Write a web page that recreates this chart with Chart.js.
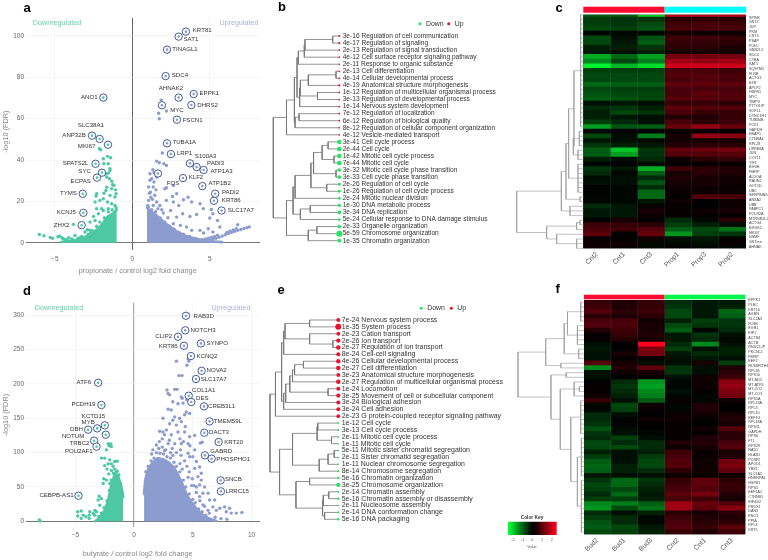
<!DOCTYPE html>
<html>
<head>
<meta charset="utf-8">
<title>Volcano plots, GO terms and heatmaps</title>
<script src="https://cdn.jsdelivr.net/npm/chart.js@4"></script>
<style>
  html, body { margin: 0; background: #fff; }
  #page { position: relative; width: 768px; height: 560px; overflow: hidden; }
  #page canvas { position: absolute; left: 0; top: 0; filter: blur(0.45px); }
</style>
</head>
<body>
<div id="page"></div>
<script>
// ---------- panel a: propionate volcano ----------
const aUpGenes = ['KRT81','SAT1','TINAGL1','SDC4','EPPK1','AHNAK2','DHRS2','MYC','FSCN1','TUBA1A','LRP1','S100A3','PADI3','ATP1A3','FOS','KLF2','ATP1B2','PADI2','KRT86','SLC17A7'];
const aUpFc = [3.46,2.99,2.24,2.15,3.96,2.99,3.81,1.91,2.88,2.24,2.49,3.72,4.15,4.60,1.66,3.27,4.52,5.35,5.27,5.76];
const aUpFdr = [102.1,99.7,93.4,80.6,71.9,70.2,66.6,66.5,59.5,48.1,42.9,38.4,36.6,35.2,33.5,31.3,27.4,23.7,20.3,15.6];
const aDownGenes = ['ANO1','ANP32B','SLC38A1','MKI67','SPATS2L','SYC','ECPAS','TYMS','KCNJ5','ZHX2'];
const aDownFc = [-1.87,-2.6,-2.11,-1.57,-2.37,-1.96,-2.28,-3.2,-3.16,-3.27];
const aDownFdr = [70.2,51.8,50.2,47.4,38.2,33.9,31.5,23.7,14.5,8.5];
const aUpDots = [[1.87,69],[1.87,67],[2.2,63.7],[1.7,62.6],[1.74,60],[1.94,43.4],[1.57,39.5],[1.74,38.7],[2.04,38.2],[2.2,37.4],[1.33,35.3],[1.4,33.9],[1.14,33.4],[1.25,31],[1.57,31.8],[1.4,29.4],[1.14,30.2],[1.05,27],[1.35,27],[1.18,24.5],[1.53,25.6],[2.1,26.1],[2.2,26.6],[2.65,27.7],[2.6,22.4],[2.86,23.7],[2.2,20.5],[2.65,19.7],[3,18],[3.3,20.8],[3.6,22],[3.83,19.7],[4.37,18.9],[4.58,16.5],[5.1,16.1],[5.2,14],[5,12],[5.5,10.8],[4.15,13.7],[3.72,12.7],[3.25,14],[2.86,12.4],[2.47,15.6],[1.78,18],[1.05,20.5],[1.03,17.3],[1.35,18],[1.57,19.7],[2,14.4],[2.3,12.1],[2.65,9.2],[3.1,8.4],[3.5,7.6],[3.83,6],[4.37,6],[4.6,4.7],[4.9,6.8],[5.2,5.2],[5.65,7.6],[6.8,8.7],[1,18],[1.25,16],[1.5,15],[1.8,12],[2.1,10],[2.4,8],[2.7,6.5],[3,5],[3.3,4.2],[3.7,3],[4.1,2],[1.2,22],[1.1,24],[1.3,21],[1.45,23],[1.65,16.5],[1.9,16],[4.4,.8],[4.6,1],[4.8,1.2],[5,1.4],[5.2,1.7],[5.4,2.2],[5.6,2.7],[5.8,3.3],[6,3.9],[6.2,4.5],[6.4,5],[6.6,5.5],[6.8,6],[7,6.4],[7.2,6.9],[7.4,7.3],[7.55,7.7],[6.1,5],[6.3,5.6],[6.5,6.2],[6.7,6.8],[5.5,3.6],[5.3,3],[5.1,2.6],[4.9,2.2],[4.7,1.8],[4.5,1.5]];
const aDownDots = [[-1.6,41.8],[-1.4,41.1],[-1.87,40.6],[-1.83,38.2],[-1.55,38.2],[-2.13,45.5],[-2.04,45],[-1.44,35.8],[-1.44,35],[-1.55,33.7],[-1.7,33.4],[-1.65,31.8],[-1.48,31],[-1.33,29.8],[-1.18,27.7],[-1.27,28.2],[-1.08,25.6],[-1.05,23.7],[-1.12,22.1],[-1.33,26.1],[-1.65,26.9],[-1.7,25.3],[-1.44,22.9],[-1.83,24],[-2.3,23.7],[-2.34,22.6],[-2.4,19.7],[-2.09,20.5],[-1.87,21.3],[-1.6,19.7],[-1.33,18.9],[-1.12,18],[-2.3,16.5],[-1.98,16.5],[-2.19,14],[-1.87,15.6],[-1.55,16.5],[-2.5,12.7],[-2.4,10.8],[-2.73,10],[-3.8,8.9],[-2.9,6.3],[-2.73,6],[-3.05,5.2],[-3.27,3.1],[-3.7,3.5],[-6,4],[-5.7,3.4],[-5.3,2.6],[-5.15,2.2],[-4.8,2.9],[-4.7,3.2],[-4.55,2.4],[-4.45,2],[-4.25,1.6],[-4.1,2.5],[-3.9,1.9],[-3.45,1.9],[-3.35,2.5],[-3,2.9],[-2.7,4.5],[-1.05,17],[-1.3,16],[-1.55,15],[-1.8,12],[-2.1,10],[-2.3,8],[-2.6,6],[-2.85,4],[-3.2,2.5],[-3.5,2.2],[-3.9,1.2],[-4.3,1]];
const aUpMass = [[0.95,17],[1.15,15.5],[1.6,13],[2.2,9],[2.86,5.5],[3.5,3.2],[4.4,1.5],[5,.7],[5.8,.3]];
const aDownMass = [[-4.6,.4],[-4.2,.8],[-3.6,1.5],[-2.95,2.7],[-2.5,5],[-2.1,7.6],[-1.6,12.5],[-1.2,14.5],[-1,16]];

// ---------- panel d: butyrate volcano ----------
const dUpGenes = ['RAB3D','NOTCH3','CLIP2','SYNPO','KRT86','KCNQ2','NOVA2','SLC17A7','COL1A1','DES','CREB3L1','TMEM59L','DACT3','KRT20','GABRD','PHOSPHO1','SNCB','LRRC15'];
const dUpFc = [4.42,4.36,3.74,5.69,4.25,4.84,5.75,5.27,4.65,4.87,5.95,6.43,5.98,7.2,6.03,6.6,7.37,7.39];
const dUpFdr = [299,277.8,268.5,258.8,255.4,240.4,219,207,182.7,173.5,167.2,145.4,128.9,115.4,96,91.1,59.6,43.6];
const dDownGenes = ['ATF6','PCDH19','KCTD15','MYB','DBH','NOTUM','TRBC2','POU2AF1','CEBPB-AS1'];
const dDownFc = [-3.06,-2.78,-2.49,-3.14,-3.91,-2.41,-3.4,-3.2,-4.73];
const dDownFdr = [201.6,169.2,139.6,135.2,133.3,126,117.3,108.6,37.3];
const dUpDots = [[3.6,233],[4.6,236],[4.5,227],[4.67,233],[3.82,212],[4.08,212],[3.03,184],[2.8,191],[3.46,192],[3.65,192],[2.89,186],[4.1,179],[4.02,181],[4.5,177],[4.16,172],[3.3,174],[3.74,171],[2.9,163],[3.17,162],[4.45,159],[4.73,157],[3.46,152],[3.3,147],[3.88,150],[4.3,155],[2.46,150],[4.02,145],[3.03,142],[3.6,140],[4.36,138],[2.75,133],[2.18,131],[2.46,130],[2.6,126],[3.17,126],[3.74,130],[4.3,130],[4.73,123],[5.16,125],[5.64,114],[5.8,115],[4.02,113],[4.6,113],[5.16,104],[1.9,111],[2.9,113],[3.46,113],[4.6,99],[5,94],[5.3,87],[5.58,79],[5.16,77],[4.73,94],[5.72,70],[5.44,65],[5.72,60],[6,50],[5.58,53],[6.3,41],[5.3,50],[6.43,31],[5.86,41],[6.86,31],[7.3,19],[7.7,21],[8.13,19],[7.85,14],[8.27,12],[8.7,12],[9.18,13],[7,16],[6.71,21],[6.3,16],[5.58,36],[5.86,24],[2.4,108],[2.7,104],[3.1,100],[3.6,100],[4,96],[1.5,98],[1.9,100],[4.3,88],[4.5,80],[4.7,72],[4.95,62],[5.1,52],[5.3,42],[5.6,30],[6,22],[6.4,12],[6.9,6],[7.4,4],[7.9,3],[1,72],[1.2,80],[1.45,88],[1.7,92],[2.2,99],[2.5,98],[2.8,94],[3.1,92],[3.4,86],[3.6,80],[3.9,72],[4.2,60],[4.4,50],[4.7,40],[5,32],[5.2,27],[5.5,18],[5.8,14],[6.1,9],[1.6,104],[2.1,106],[2.6,103],[3.3,96],[3.9,84],[4.1,76],[4.6,64],[4.9,52],[4.75,110],[3.95,104],[3.25,106],[2.15,116],[2.4,120],[3,118],[3.9,120],[4.2,116]];
const dDownDots = [[-2.2,113],[-1.98,112.5],[-2.12,110],[-1.93,108.7],[-2.35,104],[-2.78,92],[-2.5,92],[-2.07,89.4],[-1.64,87],[-1.44,87.5],[-2.2,83.6],[-1.93,83.6],[-1.78,80],[-2.5,81],[-2.3,76],[-1.64,76],[-1.93,74],[-2.15,69],[-1.44,73],[-2.58,62],[-2.35,60],[-2.07,55],[-2.63,55],[-2.97,36.5],[-2.78,33],[-3.06,31],[-2.92,23.5],[-3.34,16],[-3.48,11.5],[-3.34,9],[-3.2,14],[-3.77,14],[-3.82,9],[-4.33,9],[-4.8,14],[-4.5,15],[-4.8,7.7],[-4.5,4.3],[-4.1,6.7],[-3.82,4.3],[-8.07,1.9],[-8,.6],[-1,42],[-1.15,55],[-1.3,68],[-1.5,72],[-1.75,70],[-1.95,60],[-2.1,45],[-2.3,30],[-2.55,20],[-2.8,12],[-3,7]];
const dUpMass = [[.85,40],[.95,60],[1.15,74],[1.5,84],[2,92],[2.5,90],[3,85],[3.4,78],[3.8,66],[4.1,55],[4.45,40],[4.87,28],[5.3,19],[5.86,9],[6.4,4],[7,.6]];
const dDownMass = [[-3.3,.3],[-3.06,3.4],[-2.78,9],[-2.5,16],[-2.2,31],[-1.93,53],[-1.64,69],[-1.36,66],[-1.08,50],[-.93,35]];

// ---------- panel b: GO terms, propionate ----------
const bPvals = ['3e-16','4e-17','2e-13','4e-12','2e-11','2e-13','4e-14','4e-19','1e-12','3e-13','1e-14','7e-12','6e-12','8e-12','4e-12','3e-41','2e-44','1e-42','7e-44','3e-32','3e-33','2e-26','1e-26','2e-24','1e-30','3e-34','5e-24','2e-33','5e-59','1e-35'];
const bTerms = ['Regulation of cell communication','Regulation of signaling','Regulation of signal transduction','Cell surface receptor signaling pathway','Response to organic substance','Cell differentiation','Cellular developmental process','Anatomical structure morphogenesis','Regulation of multicellular organismal process','Regulation of developmental process','Nervous system development','Regulation of localization','Regulation of biological quality','Regulation of cellular component organization','Vesicle-mediated transport','Cell cycle process','Cell cycle','Mitotic cell cycle process','Mitotic cell cycle','Mitotic cell cycle phase transition','Cell cycle phase transition','Regulation of cell cycle','Regulation of cell cycle process','Mitotic nuclear division','DNA metabolic process','DNA replication','Cellular response to DNA damage stimulus','Organelle organization','Chromosome organization','Chromatin organization'];
const bUpCount = 15;
const bTreeTop = [.8,[.68,[.64,[.62,[.53,[.52,[.1,0,1],2],3],4],[.6,[.59,[.47,[.05,5,6],7],[.33,8,9]],10]],[.67,[.61,11,12],13]],14];
const bTreeBottom = [.8,[.7,[.67,[.43,[.39,[.26,[.17,15,16],[.08,17,18]],[.05,19,20]],[.19,21,22]],23],[.59,[.44,24,25],26]],[.47,[.34,27,28],29]];
const bTree = [1,bTreeTop,bTreeBottom];

// ---------- panel e: GO terms, butyrate ----------
const ePvals = ['7e-24','1e-35','2e-23','2e-26','2e-27','8e-24','4e-26','2e-27','3e-23','2e-27','1e-24','3e-25','3e-24','3e-24','2e-23','1e-12','3e-13','2e-11','1e-11','5e-11','2e-11','1e-11','8e-14','5e-16','3e-25','2e-14','5e-16','2e-11','2e-14','5e-16'];
const eTerms = ['Nervous system process','System process','Cation transport','Ion transport','Regulation of ion transport','Cell-cell signaling','Cellular developmental process','Cell differentiation','Anatomical structure morphogenesis','Regulation of multicellular organismal process','Locomotion','Movement of cell or subcellular component','Biological adhesion','Cell adhesion','G protein-coupled receptor signaling pathway','Cell cycle','Cell cycle process','Mitotic cell cycle process','Mitotic cell cycle','Mitotic sister chromatid segregation','Sister chromatid segregation','Nuclear chromosome segregation','Chromosome segregation','Chromatin organization','Chromosome organization','Chromatin assembly','Chromatin assembly or disassembly','Nucleosome assembly','DNA conformation change','DNA packaging'];
const eUpCount = 15;
const eTreeTop = [.92,[.83,[.8,[.78,[.42,0,1],[.42,2,[.08,3,4]]],5],[.8,[.77,[.71,[.67,[.64,[.51,6,7],8],9],[.15,10,11]],12],13]],14];
const eTreeBottom = [.86,[.67,[.31,[.3,15,16],[.1,17,18]],[.28,[.15,[.06,19,20],21],22]],[.62,[.42,23,24],[.23,[.22,[.14,25,26],27],[.2,28,29]]]];
const eTree = [1,eTreeTop,eTreeBottom];

// ---------- panel c: heatmap, propionate ----------
const cCols = ['Cnt2','Cnt1','Cnt3','Prop1','Prop3','Prop2'];
const cGenes = ['','SPINK','GSTZ','JUP','PKM','CST3','PSAP','PLEC','GNB2L1','SDC4','CYBA','SAT1','SQSTM1','FLNB','ACTG1','EZR','APLP2','HSPB1','MYC','TIMP3','PTTG1IP','SOPL1','DYNC1H1','TUBB4B','PCK1','GAPDH','HSAP1','CTNNA1','RPL28','UPRE6A','JUN','COTL1','YIF1','EIF4H','FMRP','ALDOA','RAUN2','GOT1D','UBC','SERPINB24','ANXA2','UBB','PABPC1','POLR2A','MTRNR2L2','ACTG4','EIF4G2','MKI67','NSMF','GSTmn','AHNAK'];
const cHeat = [
  [-1,-1,-2,1.8,1.8,1.8],[-.7,-.6,-.6,.5,.5,.5],[-.7,-.6,-.8,.7,.8,.7],[-.8,-.7,-.9,.8,.8,.8],[-.1,-.1,-.1,.3,.2,.2],
  [-.8,-.2,-.9,.7,.7,.6],[-.8,-.3,-1,.6,.6,.5],[-.4,-.4,-.6,.5,.5,.35],[-.3,-.2,-.4,.3,.3,.25],[-1.7,-1.1,-1.6,1.2,1.2,1.2],
  [-1.4,-.8,-1.3,1.6,1.5,1.6],[-2.3,-1.8,-2.1,2,2,2],[-.7,-.7,-.7,.8,.8,.7],[-.8,-.8,-.8,.9,.9,.8],[-.8,-.8,-.8,.8,.9,.8],
  [-1.1,-1,-1,1,1,1],[-.8,-.7,-.7,.8,.8,.8],[-.9,-.8,-.8,.8,1,.9],[-1,-.9,-.8,.9,.9,.9],[-.2,-.3,-.2,.6,.6,.5],
  [-.5,-.6,-.4,1,.9,.9],[-.4,-.8,-.6,.8,.6,.6],[-.4,-.3,-.2,.4,.4,.6],[-.7,-.5,-.2,.8,.5,.7],[-1.6,-.9,-1,1.1,1.5,1.1],
  [-.1,-.05,-.05,.1,.1,.1],[-.8,-.15,-1.3,.3,1.5,1.4],[-.3,-.2,-.1,.2,.3,.3],[-.6,-.4,-.3,.4,.5,.5],[-1,-1.9,-.6,1,1.1,1.2],
  [-1,-1.6,-.6,.9,.9,.9],[-.4,-.2,-.5,.2,.5,.6],[-.1,-.05,-.15,.1,.1,.1],[-.6,-.3,-1.7,.7,.5,.4],[-.5,-.1,-1,.3,.5,.4],
  [-.15,-.2,-.5,.4,.3,.2],[-.2,-.2,-.9,.3,.3,.2],[-.05,-.1,-.5,.2,.2,.15],[-.05,-.1,-1.1,.15,.2,.2],[-.1,-.1,-1.1,.1,.9,.8],
  [-.1,-.1,-.3,.2,0,.2],[-.5,-.3,.1,.1,0,.15],[-.3,-.3,.3,.1,.2,.3],[-.3,-.3,.2,.1,.1,.1],[-.05,.3,.05,-.5,-.1,.5],
  [.7,.6,.5,-.7,-.4,-.2],[.8,.7,.9,-1,-.8,-1.2],[1,.05,1.1,-1.5,-.7,-.6],[.1,.05,.2,-.2,-.3,.1],[.2,.2,-.1,-.1,-.2,.1],[.2,.1,-.1,0,-.1,-.1]
];
const cTreeHigh = [.04,0,1,2,3,4,5,6,7,8,9,10,11,12,13,14,15,16,17,18,19,20,21,22,23,24];
const cTreeMid = [.15,[.06,25,26,27,28],[.08,29,30,31]];
const cTreeLow = [.08,32,33,34,35,36,37,38];
const cTreeUpper = [.33,[.26,[.22,[.14,cTreeHigh,cTreeMid],cTreeLow],[.05,39,40]],[.2,41,42,43]];
const cTreeLower = [.55,[.1,[.05,44,45],46],[.4,47,[.1,48,49,50]]];
const cTree = [1,cTreeUpper,cTreeLower];

// ---------- panel f: heatmap, butyrate ----------
const fCols = ['Bud2','Bud1','Bud3','Cnt2','Cnt1','Cnt3'];
const fGenes = ['EPPK1','PLEC','KRT16','AGRN','SLC2A3','FLNB','EGR1','EIF1','ACTN4','ACTB','RNU12-IP','PKCNL2','FMRP','EEF2','HLSBRITH4','RPL36','RPS10','MT-ND5','MT-ATP6','MT-CO2','MT-CO3','RPS5A','RPL13A','RPL3','RPL10','EEF1G','RPL18A','RPS11','GAPDH','RPS6','FTL','RPS2K','NAD1','HLAB1','PCBP2','APOD1','YBX1','SLC1A5','HNRNPA1','HSPE1','RPS5','EEF1A1','CTNNB1','EIF4G2','PRDX1','DAN3','ENO1','PPIA','RPL4','KRT5'];
const fHeat = [
  [.6,.4,.6,-.5,-.3,-.3],[.7,.4,.6,-.6,-.3,-.4],[.9,.5,.7,-.8,-.3,-1.1],[.5,.4,.5,-.8,-.3,-1],[.8,.8,.2,-.4,-.7,-.6],
  [.9,.8,.3,-.8,-.6,-.6],[.4,.7,.3,-1,-.1,-.5],[.1,.6,.4,-.3,-.6,-.2],[.1,.4,.3,-.3,-.5,-.1],[-.2,0,2.4,-.5,-1.4,-.2],
  [-.3,0,1.3,-.7,-.2,-.4],[-.2,.3,1.2,-.3,-.5,-.4],[-.2,.1,.1,-.2,-.3,-.2],[.9,.3,-.2,-.2,.3,-.7],[-1.4,.4,1,-.6,-.2,.4],
  [-.2,.2,.3,-.6,-.2,.5],[-.2,0,.1,-.2,.2,.7],[0,-.5,-1.5,-.1,.2,1.4],[.1,-.6,-1.6,-.1,.2,1.5],[.1,-.5,-1.4,-.2,.1,1.3],
  [.2,-.4,-1.3,-.1,-.1,1.2],[.6,-.2,-1,.1,-.1,.2],[-.1,-.8,.2,-.1,.4,0],[-.1,-.7,.1,-.1,.4,0],[-.5,-.2,0,.15,.2,.3],
  [-.5,-.05,.2,.2,.05,.4],[-.6,-.05,.1,.1,.05,.3],[-.9,-.15,-.05,.1,.2,.9],[-.6,-.2,-.1,.1,.1,.5],[-.5,-.7,-.2,.1,.4,.5],
  [-.8,-.5,-.5,.4,.4,.8],[-.8,-.8,-.5,.2,.3,.9],[-.4,-.2,-.4,.7,.15,.3],[-.7,-.2,-.7,.8,.15,.4],[-1,-.2,-.8,.9,.2,1.2],
  [-1.1,-.4,-.8,.9,.2,1.3],[-1,-.4,-.5,.5,.2,1],[-.3,-.2,-.2,.2,.1,.2],[-.6,-1.1,-.6,.6,1,.5],[-.8,-1.1,-.5,.7,1,.6],
  [-.7,-.8,-.4,.8,.9,.6],[-.5,-1.1,-.3,1,1.2,.4],[-.7,-.7,-.4,.8,.7,.3],[-1.4,-1.3,-1,1.6,1.1,.9],[-1.5,-.8,-1.2,1.6,1,1.4],
  [-.5,-.2,-.4,.5,.3,.5],[-.7,-.5,-.1,.7,.4,.4],[-.9,-.5,-.1,.8,.5,.5],[-1,-.8,-.3,.9,.6,1],[-.8,-.7,-.4,.6,.4,.7]
];
const fTreeUpper = [.58,[.3,[.25,[.05,0,1,2,3,4],[.1,5,6,7,8,9]],[.08,10,11,12]],[.35,13,14]];
const fTreeRest = [.2,[.05,21,22,23,24,25,26,27,28],[.1,[.04,29,30,31,32,33,34,35,36,37],[.04,38,39,40,41,42,43,44,45,46,47,48,49]]];
const fTreeLower = [.5,[.27,15,16],[.36,[.15,17,[.07,18,19],20],fTreeRest]];
const fTree = [1,fTreeUpper,fTreeLower];

// color key
const keyLevels = [-2.5,-2.25,-2,-1.75,-1.5,-1.25,-1,-.75,-.5,-.25,0,.25,.5,.75,1,1.25,1.5,1.75,2,2.25,2.5];
const keyTicks = [-2,-1,0,1,2];

// ---------- styles ----------
const FONT = '"Liberation Sans", Arial, sans-serif';
const GREEN = 'rgb(76,200,162)';
const BLUE = 'rgb(141,156,206)';
const NAVY = '#2e4a8e';
Chart.defaults.font.family = FONT;
Chart.defaults.animation = false;
Chart.defaults.responsive = false;
Chart.defaults.plugins.legend.display = false;
Chart.defaults.plugins.tooltip.enabled = false;

const page = document.getElementById('page');
function newCanvas() {
  const c = document.createElement('canvas');
  c.width = 768; c.height = 560;
  page.appendChild(c);
  return c;
}
function box(l, t, r, b) {
  return { padding: { left: l, top: t, right: 768 - r, bottom: 560 - b } };
}
// axes keep a fixed strip so the plot area stays put (labels clip to that strip)
function fixW(w) { return s => { s.width = w; }; }
function fixH(h) { return s => { s.height = h; }; }

// free text drawn on top of a chart
function notes(items) {
  return {
    id: 'notes',
    afterDraw(chart) {
      const ctx = chart.ctx;
      items.forEach(n => {
        ctx.save();
        ctx.translate(n.x, n.y);
        if (n.rot) ctx.rotate(n.rot);
        ctx.font = n.font;
        ctx.fillStyle = n.color;
        ctx.textAlign = n.align || 'center';
        ctx.textBaseline = 'middle';
        ctx.fillText(n.t, 0, 0);
        ctx.restore();
      });
    }
  };
}

// gene names next to the ringed points
function geneLabels(list) {
  return {
    id: 'geneLabels',
    afterDraw(chart) {
      const ctx = chart.ctx, sx = chart.scales.x, sy = chart.scales.y;
      ctx.save();
      ctx.font = '6.1px ' + FONT;
      ctx.fillStyle = '#333';
      ctx.textAlign = 'center';
      ctx.textBaseline = 'middle';
      list.forEach(g => {
        ctx.fillText(g.name, sx.getPixelForValue(g.x) + g.dx, sy.getPixelForValue(g.y) + g.dy);
      });
      ctx.restore();
    }
  };
}

function toPts(xs, ys) { return xs.map((x, i) => ({ x: x, y: ys[i] })); }
function pairs(a) { return a.map(p => ({ x: p[0], y: p[1] })); }

function volcano(cfg) {
  const dot = (data, color, r) => ({ data: data, pointRadius: r, pointBackgroundColor: color, pointBorderWidth: 0, showLine: false, clip: false });
  const ring = data => ({ data: data, pointRadius: 3.7, pointBackgroundColor: '#fff', pointBorderColor: NAVY, pointBorderWidth: .9, showLine: false, clip: false });
  const mass = (data, color) => ({ data: data, showLine: true, fill: 'origin', backgroundColor: color, borderColor: color, borderWidth: 2.6, borderCapStyle: 'round', borderJoinStyle: 'round', pointRadius: 0, clip: false });
  const up = toPts(cfg.upFc, cfg.upFdr), down = toPts(cfg.downFc, cfg.downFdr);
  const lab = [];
  cfg.upGenes.forEach((n, i) => lab.push({ name: n, x: cfg.upFc[i], y: cfg.upFdr[i], dx: cfg.upOff[i][0], dy: cfg.upOff[i][1] }));
  cfg.downGenes.forEach((n, i) => lab.push({ name: n, x: cfg.downFc[i], y: cfg.downFdr[i], dx: cfg.downOff[i][0], dy: cfg.downOff[i][1] }));
  new Chart(newCanvas(), {
    type: 'scatter',
    data: { datasets: [
      dot(up, BLUE, 1.3), dot(down, GREEN, 1.3),
      ring(up), ring(down),
      dot(pairs(cfg.upDots), BLUE, 1.7), dot(pairs(cfg.downDots), GREEN, 1.7),
      mass(pairs(cfg.upMass), BLUE), mass(pairs(cfg.downMass), GREEN)
    ] },
    options: {
      layout: { padding: { left: 0, top: cfg.box[1], right: 768 - cfg.box[2], bottom: 560 - cfg.box[3] - 14 } },
      scales: {
        x: {
          min: cfg.xr[0], max: cfg.xr[1], afterFit: fixH(14),
          border: { display: false },
          grid: { drawTicks: false, lineWidth: ctx => ctx.tick.value === 0 ? cfg.vw : .6, color: ctx => ctx.tick.value === 0 ? cfg.vc : '#eeeeee' },
          ticks: { stepSize: 5, includeBounds: false, padding: 5, color: '#666', font: { size: 6.5 }, maxRotation: 0, callback: v => String(v).replace('-', '\u2212') }
        },
        y: {
          min: cfg.yr[0], max: cfg.yr[1], afterFit: fixW(cfg.box[0]),
          border: { display: false },
          grid: { drawTicks: false, lineWidth: ctx => ctx.tick.value === 0 ? 1 : .6, color: ctx => ctx.tick.value === 0 ? '#777' : '#eeeeee' },
          ticks: { stepSize: cfg.yStep, includeBounds: false, padding: 2, color: '#666', font: { size: 6.5 } }
        }
      }
    },
    plugins: [geneLabels(lab), notes(cfg.notes)]
  });
}

// walks a nested [height, child, child...] tree into line segments
function treeLines(node, out) {
  if (typeof node === 'number') return { h: 0, y: node };
  const h = node[0];
  const kids = node.slice(1).map(k => treeLines(k, out));
  kids.forEach(k => {
    out.push({ x: k.h, y: k.y }, { x: h, y: k.y }, { x: NaN, y: NaN });
  });
  const ys = kids.map(k => k.y);
  const lo = Math.min.apply(null, ys), hi = Math.max.apply(null, ys);
  out.push({ x: h, y: lo }, { x: h, y: hi }, { x: NaN, y: NaN });
  return { h: h, y: (lo + hi) / 2 };
}

function dendrogram(cfg) {
  const lines = [];
  treeLines(cfg.tree, lines);
  const datasets = [{ data: lines, showLine: true, borderColor: cfg.color, borderWidth: cfg.width, pointRadius: 0, clip: false }];
  if (cfg.dots) datasets.unshift(cfg.dots);
  new Chart(newCanvas(), {
    type: 'scatter',
    data: { datasets: datasets },
    options: {
      layout: box(cfg.box[0], cfg.box[1], cfg.box[2], cfg.box[3]),
      scales: {
        x: { display: false, reverse: true, min: 0, max: 1 },
        y: { display: false, reverse: true, min: cfg.yr[0], max: cfg.yr[1] }
      }
    },
    plugins: cfg.plugins || []
  });
}

function goPanel(cfg) {
  const expo = cfg.pvals.map(p => parseInt(p.split('-')[1], 10));
  const top = Math.max.apply(null, expo);
  const radius = expo.map(e => .8 + 2.2 * (e - 11) / (top - 11));
  const colors = cfg.pvals.map((p, i) => i < cfg.upCount ? '#ee1230' : '#1fe65c');
  const dots = {
    data: cfg.pvals.map((p, i) => ({ x: 0, y: i })),
    pointRadius: radius, pointBackgroundColor: colors, pointBorderWidth: 0, showLine: false, clip: false
  };
  const rowText = {
    id: 'rowText',
    afterDraw(chart) {
      const ctx = chart.ctx, sy = chart.scales.y, sx = chart.scales.x;
      ctx.save();
      ctx.font = cfg.font + 'px ' + FONT;
      ctx.fillStyle = '#333';
      ctx.textAlign = 'left';
      ctx.textBaseline = 'middle';
      cfg.terms.forEach((t, i) => {
        ctx.fillText(cfg.pvals[i] + ' ' + t, sx.getPixelForValue(0) + 3.4, sy.getPixelForValue(i));
      });
      // Down / Up legend
      const lx = cfg.legend[0], ly = cfg.legend[1];
      ctx.font = '6.9px ' + FONT;
      [['Down', '#1fe65c', 0], ['Up', '#ee1230', cfg.legend[2]]].forEach(l => {
        ctx.fillStyle = l[1];
        ctx.beginPath();
        ctx.arc(lx + l[2], ly, 1.5, 0, Math.PI * 2);
        ctx.fill();
        ctx.fillStyle = '#333';
        ctx.fillText(l[0], lx + l[2] + 6, ly);
      });
      ctx.restore();
    }
  };
  dendrogram({
    tree: cfg.tree, box: cfg.box, yr: [0, cfg.terms.length - 1], color: '#777', width: .8, dots: dots,
    plugins: [rowText, notes(cfg.notes)]
  });
}

function heatColor(z) {
  const t = Math.round(Math.pow(Math.min(Math.abs(z) / 2.4, 1), 1.15) * 255);
  return z > 0 ? 'rgb(' + t + ',0,' + Math.round(t * .12) + ')' : 'rgb(0,' + t + ',' + Math.round(t * .2) + ')';
}

function heatmap(cfg) {
  const datasets = cfg.cols.map((c, j) => ({
    label: c,
    data: cfg.heat.map(() => 1),
    backgroundColor: cfg.heat.map(r => heatColor(r[j])),
    barPercentage: 1, categoryPercentage: 1, borderWidth: 0
  }));
  const decor = {
    id: 'decor',
    beforeDatasetsDraw(chart) {
      const a = chart.chartArea;
      chart.ctx.fillStyle = '#000';
      chart.ctx.fillRect(a.left, a.top, a.right - a.left, a.bottom - a.top);
    },
    afterDatasetsDraw(chart) {
      const ctx = chart.ctx, sx = chart.scales.x, a = chart.chartArea;
      ctx.save();
      ctx.strokeStyle = 'rgba(150,150,150,.28)';
      ctx.lineWidth = .5;
      for (let v = 1; v < 6; v++) {
        ctx.beginPath();
        ctx.moveTo(sx.getPixelForValue(v), a.top);
        ctx.lineTo(sx.getPixelForValue(v), a.bottom);
        ctx.stroke();
      }
      cfg.bars.forEach(b => {
        ctx.fillStyle = b[2];
        ctx.fillRect(sx.getPixelForValue(b[0]), cfg.barY[0], sx.getPixelForValue(b[1]) - sx.getPixelForValue(b[0]), cfg.barY[1] - cfg.barY[0]);
      });
      ctx.restore();
    }
  };
  new Chart(newCanvas(), {
    type: 'bar',
    data: { labels: cfg.genes, datasets: datasets },
    options: {
      indexAxis: 'y',
      layout: { padding: { left: cfg.box[0], top: cfg.box[1], right: 0, bottom: 560 - cfg.box[3] - 22 } },
      scales: {
        x: {
          type: 'linear', stacked: true, min: 0, max: 6, afterFit: fixH(22),
          afterBuildTicks(axis) { axis.ticks = cfg.cols.map((c, i) => ({ value: i + .5 })); },
          border: { display: false }, grid: { display: false, drawTicks: false },
          ticks: { minRotation: 45, maxRotation: 45, padding: 2, color: '#555', font: { size: 6.8 }, callback: (v) => cfg.cols[Math.floor(v)] }
        },
        y: {
          type: 'category', stacked: true, position: 'right', offset: cfg.offset, afterFit: fixW(768 - cfg.box[2]),
          border: { display: false }, grid: { display: false, drawTicks: false },
          ticks: { autoSkip: false, padding: 3, labelOffset: cfg.labelShift, color: '#444', font: { size: 3.7 } }
        }
      }
    },
    plugins: [decor, notes(cfg.notes)]
  });
}

// ---------- build the panels ----------
volcano({
  box: [26, 18, 260, 250], xr: [-6.86, 8.24], yr: [-3.5, 108.7], yStep: 20, vc: '#666', vw: 1,
  upGenes: aUpGenes, upFc: aUpFc, upFdr: aUpFdr, downGenes: aDownGenes, downFc: aDownFc, downFdr: aDownFdr,
  upDots: aUpDots, downDots: aDownDots, upMass: aUpMass, downMass: aDownMass,
  upOff: [[16.3,-1.7],[12.3,3],[18,0],[14.3,-.7],[15.7,-.7],[-7.7,-9.3],[16.3,.3],[15,5],[15.7,1],[17.3,-.7],[13.7,-.7],[15.7,-6.7],[19,-3.7],[18,1],[15,9.7],[13,-.3],[17.3,-2.7],[15.3,-1.3],[17.3,-.3],[19.3,-.3]],
  downOff: [[-14,-.3],[-18,0],[-8.7,-13.7],[-21.3,2],[-20,-.3],[-17.3,-1],[-16.3,3.3],[-14.3,-.3],[-17,-.3],[-20,0]],
  notes: [
    { t: 'a', x: 27, y: 8, font: 'bold 13px ' + FONT, color: '#000' },
    { t: 'Downregulated', x: 57, y: 23.5, font: '7.2px ' + FONT, color: '#63d0ae' },
    { t: 'Upregulated', x: 239, y: 23.5, font: '7.2px ' + FONT, color: '#a9b2da' },
    { t: 'propionate / control log2 fold change', x: 137.7, y: 270.7, font: '7.3px ' + FONT, color: '#888' },
    { t: '-log10 (FDR)', x: 6, y: 131.7, font: '7.3px ' + FONT, color: '#888', rot: -Math.PI / 2 }
  ]
});

volcano({
  box: [26, 302.7, 260, 526.7], xr: [-9.2, 10.72], yr: [-7.8, 318], yStep: 50, vc: '#aaa', vw: 1.2,
  upGenes: dUpGenes, upFc: dUpFc, upFdr: dUpFdr, downGenes: dDownGenes, downFc: dDownFc, downFdr: dDownFdr,
  upDots: dUpDots, downDots: dDownDots, upMass: dUpMass, downMass: dDownMass,
  upOff: [[17.7,1],[17.7,0],[-14.3,0],[16.3,0],[-15.7,.3],[16,0],[15,0],[17.7,0],[15,-5],[11,-3.7],[17.7,0],[18.3,.3],[14.7,0],[15,.3],[16.3,-4],[21.7,.3],[12.7,-.7],[16.3,0]],
  downOff: [[-14.3,-.3],[-18,-.7],[-11.3,-9],[-9,-6],[-11.7,0],[-32.7,2],[-14.7,2.7],[-17.7,4.7],[-22,0]],
  notes: [
    { t: 'd', x: 27, y: 291, font: 'bold 13px ' + FONT, color: '#000' },
    { t: 'Downregulated', x: 59, y: 308, font: '7.2px ' + FONT, color: '#63d0ae' },
    { t: 'Upregulated', x: 231, y: 308, font: '7.2px ' + FONT, color: '#a9b2da' },
    { t: 'butyrate / control log2 fold change', x: 137.7, y: 553.5, font: '7.3px ' + FONT, color: '#888' },
    { t: '-log10 (FDR)', x: 6, y: 415, font: '7.3px ' + FONT, color: '#888', rot: -Math.PI / 2 }
  ]
});

goPanel({
  tree: bTree, pvals: bPvals, terms: bTerms, upCount: bUpCount, box: [273.3, 36, 339.3, 240.7],
  font: 6.6, legend: [420, 23.7, 28.7],
  notes: [{ t: 'b', x: 282, y: 7.5, font: 'bold 13px ' + FONT, color: '#000' }]
});

goPanel({
  tree: eTree, pvals: ePvals, terms: eTerms, upCount: eUpCount, box: [270, 320, 338.3, 519.3],
  font: 6.95, legend: [421.3, 308.3, 30],
  notes: [{ t: 'e', x: 281, y: 290, font: 'bold 13px ' + FONT, color: '#000' }]
});

heatmap({
  cols: cCols, genes: cGenes, heat: cHeat, box: [583.3, 14.7, 746, 248.3], offset: false, labelShift: -1.7,
  barY: [6.7, 12.7], bars: [[0, 3, '#ff0a30'], [3, 6, '#00ffff']],
  notes: [{ t: 'c', x: 559, y: 8, font: 'bold 13px ' + FONT, color: '#000' }]
});
dendrogram({ tree: cTree, box: [516.7, 14.7, 583.3, 248.3], yr: [0, 50], color: '#999', width: .6 });

heatmap({
  cols: fCols, genes: fGenes, heat: fHeat, box: [584, 300, 745.3, 534.3], offset: true, labelShift: -2,
  barY: [294.7, 299.3], bars: [[0, 3, '#ff0a30'], [3, 6, '#00f54a']],
  notes: [{ t: 'f', x: 557.7, y: 289, font: 'bold 13px ' + FONT, color: '#000' }]
});
dendrogram({ tree: fTree, box: [518, 302.3, 584, 532], yr: [0, 49], color: '#999', width: .6 });

// color key, one floating bar per level step
new Chart(newCanvas(), {
  type: 'bar',
  data: {
    labels: ['key'],
    datasets: keyLevels.slice(0, -1).map((v, i) => ({
      data: [[v, keyLevels[i + 1]]],
      backgroundColor: heatColor((v + keyLevels[i + 1]) / 2),
      barPercentage: 1, categoryPercentage: 1, grouped: false
    }))
  },
  options: {
    indexAxis: 'y',
    layout: { padding: { left: 508, top: 521.7, right: 768 - 556.7, bottom: 560 - 535 - 9 } },
    scales: {
      x: {
        type: 'linear', min: -2.5, max: 2.5, afterFit: fixH(9),
        afterBuildTicks(axis) { axis.ticks = keyTicks.map(v => ({ value: v })); },
        border: { display: false }, grid: { display: false, drawTicks: false },
        ticks: { padding: 3, color: '#555', font: { size: 3.8 }, maxRotation: 0 }
      },
      y: { display: false }
    }
  },
  plugins: [notes([
    { t: 'Color Key', x: 532, y: 517.7, font: 'bold 4.8px ' + FONT, color: '#333' },
    { t: 'Value', x: 532, y: 546.7, font: '3.8px ' + FONT, color: '#555' }
  ])]
});
</script>
</body>
</html>
